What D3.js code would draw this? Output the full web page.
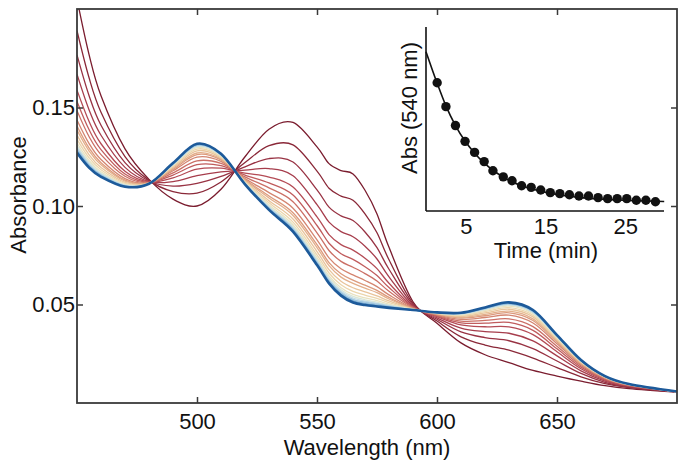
<!DOCTYPE html>
<html>
<head>
<meta charset="utf-8">
<script src="https://cdn.jsdelivr.net/npm/d3@7"></script>
<style>
  html, body { margin: 0; padding: 0; background: #fff; }
  svg { display: block; font-family: "Liberation Sans", Arial, sans-serif; }
</style>
</head>
<body>
<svg id="chart" width="690" height="465"></svg>
<script>
// ---------------- DATA ----------------
const wavelengths = [450,455,460,470,480,490,500,510,520,530,540,550,555,560,565,570,575,580,590,600,610,620,630,640,650,660,670,680,700];

// Absorbance spectra, first (t = 0) to last
const spectra = [
  [.2050,.1770,.1560,.1290,.1135,.1035,.1000,.1085,.1250,.1390,.1424,.1300,.1215,.1180,.1163,.1080,.0960,.0790,.0514,.0405,.0305,.0245,.0205,.0165,.0137,.0111,.0088,.0073,.0055],
  [.1890,.1652,.1476,.1251,.1130,.1073,.1065,.1122,.1221,.1306,.1310,.1177,.1090,.1050,.1029,.0960,.0864,.0727,.0505,.0416,.0336,.0294,.0268,.0228,.0180,.0133,.0098,.0078,.0056],
  [.1767,.1561,.1410,.1220,.1127,.1101,.1115,.1150,.1199,.1241,.1223,.1082,.0994,.0950,.0926,.0868,.0789,.0679,.0499,.0425,.0361,.0332,.0316,.0276,.0213,.0150,.0105,.0081,.0056],
  [.1669,.1489,.1359,.1196,.1124,.1124,.1154,.1173,.1182,.1190,.1154,.1007,.0918,.0870,.0844,.0796,.0731,.0640,.0494,.0432,.0380,.0362,.0354,.0315,.0239,.0163,.0111,.0084,.0056],
  [.1588,.1430,.1316,.1176,.1122,.1143,.1187,.1192,.1167,.1147,.1096,.0945,.0855,.0804,.0776,.0735,.0682,.0608,.0489,.0438,.0396,.0387,.0386,.0347,.0260,.0174,.0116,.0087,.0057],
  [.1531,.1388,.1286,.1162,.1120,.1157,.1210,.1205,.1157,.1117,.1056,.0901,.0811,.0758,.0729,.0692,.0647,.0586,.0486,.0442,.0407,.0405,.0409,.0369,.0275,.0182,.0120,.0088,.0057],
  [.1484,.1353,.1261,.1151,.1119,.1168,.1229,.1216,.1148,.1092,.1022,.0864,.0774,.0719,.0689,.0657,.0619,.0567,.0484,.0445,.0416,.0419,.0427,.0388,.0288,.0189,.0123,.0090,.0057],
  [.1437,.1318,.1236,.1139,.1118,.1179,.1248,.1227,.1140,.1068,.0989,.0828,.0737,.0681,.0650,.0622,.0591,.0549,.0481,.0448,.0425,.0434,.0446,.0406,.0301,.0195,.0126,.0091,.0057],
  [.1406,.1295,.1220,.1131,.1117,.1186,.1261,.1234,.1134,.1051,.0966,.0804,.0713,.0656,.0624,.0598,.0572,.0536,.0479,.0450,.0431,.0443,.0458,.0419,.0309,.0199,.0128,.0092,.0057],
  [.1385,.1280,.1209,.1126,.1116,.1191,.1269,.1238,.1131,.1041,.0952,.0789,.0697,.0639,.0607,.0583,.0560,.0528,.0478,.0452,.0435,.0450,.0466,.0427,.0314,.0202,.0129,.0093,.0057],
  [.1360,.1261,.1195,.1120,.1116,.1197,.1280,.1244,.1126,.1027,.0934,.0769,.0677,.0618,.0585,.0564,.0544,.0518,.0477,.0454,.0440,.0457,.0476,.0437,.0321,.0206,.0131,.0093,.0057],
  [.1338,.1245,.1184,.1115,.1115,.1202,.1289,.1249,.1122,.1016,.0918,.0752,.0660,.0600,.0567,.0548,.0531,.0510,.0476,.0455,.0445,.0464,.0484,.0445,.0327,.0209,.0132,.0094,.0057],
  [.1319,.1231,.1174,.1110,.1114,.1207,.1296,.1254,.1119,.1006,.0905,.0738,.0645,.0585,.0551,.0534,.0520,.0502,.0475,.0457,.0448,.0470,.0492,.0453,.0332,.0211,.0133,.0095,.0057],
  [.1307,.1222,.1167,.1107,.1114,.1209,.1301,.1257,.1117,.0999,.0896,.0728,.0636,.0575,.0541,.0524,.0512,.0497,.0474,.0457,.0451,.0474,.0497,.0458,.0335,.0213,.0134,.0095,.0058],
  [.1297,.1215,.1162,.1105,.1114,.1212,.1305,.1259,.1115,.0994,.0889,.0721,.0628,.0567,.0533,.0517,.0506,.0494,.0474,.0458,.0453,.0477,.0500,.0461,.0338,.0214,.0134,.0095,.0058],
  [.1290,.1209,.1158,.1103,.1114,.1213,.1308,.1261,.1114,.0990,.0884,.0715,.0622,.0561,.0526,.0512,.0502,.0491,.0473,.0459,.0454,.0479,.0503,.0464,.0340,.0215,.0135,.0095,.0058],
  [.1282,.1204,.1154,.1101,.1113,.1215,.1311,.1262,.1112,.0986,.0878,.0709,.0616,.0555,.0520,.0506,.0497,.0488,.0473,.0459,.0456,.0481,.0506,.0467,.0342,.0216,.0135,.0096,.0058],
  [.1275,.1199,.1151,.1099,.1113,.1217,.1314,.1264,.1111,.0983,.0874,.0704,.0611,.0549,.0515,.0501,.0493,.0485,.0472,.0460,.0457,.0483,.0509,.0470,.0344,.0217,.0136,.0096,.0058],
  [.1270,.1195,.1148,.1098,.1113,.1218,.1316,.1265,.1110,.0980,.0870,.0700,.0607,.0545,.0510,.0497,.0490,.0483,.0472,.0460,.0458,.0485,.0511,.0472,.0345,.0218,.0136,.0096,.0058]
];

const xTicks = [500, 550, 600, 650];
const yTicks = [0.05, 0.10, 0.15];

// Inset: absorbance at 540 nm vs time
const insetTimes = [1.4,2.5,3.7,4.9,6.1,7.3,8.4,9.7,10.8,12.0,13.2,14.4,15.6,16.8,18.0,19.2,20.4,21.6,22.8,24.0,25.2,26.4,27.6,28.8];
const insetAbs   = [.1238,.1147,.1075,.1015,.0973,.0938,.0903,.0880,.0865,.0846,.0840,.0830,.0820,.0816,.0812,.0807,.0807,.0801,.0797,.0797,.0797,.0791,.0791,.0785];
const fitTimes = [0,1.4,2.5,3.7,4.9,6.1,7.3,8.4,9.7,10.8,12,14.4,16.8,19.2,21.6,24,26.4,29.9];
const fitAbs   = [.1356,.1236,.1150,.1075,.1016,.0970,.0933,.0905,.0879,.0861,.0846,.0825,.0811,.0802,.0796,.0792,.0789,.0786];
const insetXTicks = [5, 15, 25];

// ---------------- DRAW ----------------
const svg = d3.select("#chart");
const M = {left: 77, right: 677, top: 9, bottom: 403};

const x = d3.scaleLinear().domain([450, 700]).range([M.left, M.right]);
const y = d3.scaleLinear().domain([0, 0.2]).range([M.bottom, M.top]);

const palette = ["#7a1c2e","#8a2838","#983243","#a63d4c","#b44b55","#c05c5d","#cb7066","#d48570",
                 "#dc9a7d","#e3af8b","#e9c49b","#ecd6ad","#e9e2c0","#dae6d6","#c2dbe5","#a2c8df",
                 "#7eafd4","#5590c4","#1d5a9a"];

svg.append("clipPath").attr("id", "plotclip")
  .append("rect").attr("x", M.left).attr("y", M.top)
  .attr("width", M.right - M.left).attr("height", M.bottom - M.top);

const line = d3.line()
  .x((d, i) => x(wavelengths[i]))
  .y(d => y(d))
  .curve(d3.curveCardinal.tension(0));

const gCurves = svg.append("g").attr("clip-path", "url(#plotclip)");
spectra.forEach((s, i) => {
  const last = i === spectra.length - 1;
  gCurves.append("path")
    .attr("d", line(s))
    .attr("fill", "none")
    .attr("stroke", palette[i])
    .attr("stroke-width", last ? 2.6 : 1.3)
    .attr("stroke-linejoin", "round");
});

// Frame
svg.append("rect")
  .attr("x", M.left).attr("y", M.top)
  .attr("width", M.right - M.left).attr("height", M.bottom - M.top)
  .attr("fill", "none").attr("stroke", "#3a3a3a").attr("stroke-width", 1.8);

const fontSize = 22;
function styleAxis(g) {
  g.select(".domain").remove();
  g.selectAll(".tick line").attr("stroke", "#3a3a3a").attr("stroke-width", 1.5);
  g.selectAll(".tick text").attr("fill", "#111").style("font-size", fontSize + "px")
    .style("font-family", '"Liberation Sans", Arial, sans-serif');
}

svg.append("g").attr("transform", `translate(0,${M.bottom})`)
  .call(d3.axisBottom(x).tickValues(xTicks).tickSize(-6).tickPadding(10).tickFormat(d3.format("d")))
  .call(styleAxis);
svg.append("g").attr("transform", `translate(0,${M.top})`)
  .call(d3.axisTop(x).tickValues(xTicks).tickSize(-6).tickFormat(""))
  .call(styleAxis);
svg.append("g").attr("transform", `translate(${M.left},0)`)
  .call(d3.axisLeft(y).tickValues(yTicks).tickSize(-6).tickPadding(2).tickFormat(d3.format(".2f")))
  .call(styleAxis);
svg.append("g").attr("transform", `translate(${M.right},0)`)
  .call(d3.axisRight(y).tickValues(yTicks).tickSize(-6).tickFormat(""))
  .call(styleAxis);

// Axis titles
svg.append("text")
  .attr("x", 367).attr("y", 455)
  .attr("text-anchor", "middle")
  .style("font-size", "22px").attr("fill", "#111")
  .text("Wavelength (nm)");
svg.append("text")
  .attr("transform", "translate(26,195) rotate(-90)")
  .attr("text-anchor", "middle")
  .style("font-size", "22px").attr("fill", "#111")
  .text("Absorbance");

// ---------------- INSET ----------------
const I = {left: 426, right: 664, top: 27, bottom: 211};
const xi = d3.scaleLinear().domain([0, 30]).range([426, 665]);
const yi = d3.scaleLinear().domain([0.075, 0.145]).range([I.bottom, I.top]);

svg.append("rect").attr("x", I.left - 2).attr("y", I.top - 2)
  .attr("width", I.right - I.left + 6).attr("height", I.bottom - I.top + 4)
  .attr("fill", "#fff");

const fitLine = d3.line()
  .x((d, i) => xi(fitTimes[i]))
  .y(d => yi(d))
  .curve(d3.curveMonotoneX);
svg.append("path").attr("d", fitLine(fitAbs))
  .attr("fill", "none").attr("stroke", "#111").attr("stroke-width", 1.6);

svg.append("g").selectAll("circle")
  .data(insetAbs)
  .join("circle")
  .attr("cx", (d, i) => xi(insetTimes[i]))
  .attr("cy", d => yi(d))
  .attr("r", 4.7)
  .attr("fill", "#111");

svg.append("line").attr("x1", I.left).attr("x2", I.left).attr("y1", I.top).attr("y2", I.bottom)
  .attr("stroke", "#111").attr("stroke-width", 1.6);
svg.append("line").attr("x1", I.left).attr("x2", I.right).attr("y1", I.bottom).attr("y2", I.bottom)
  .attr("stroke", "#111").attr("stroke-width", 1.6);

svg.append("g").attr("transform", `translate(0,${I.bottom})`)
  .call(d3.axisBottom(xi).tickValues(insetXTicks).tickSize(0).tickPadding(7).tickFormat(d3.format("d")))
  .call(styleAxis);

svg.append("text")
  .attr("x", 546).attr("y", 258)
  .attr("text-anchor", "middle")
  .style("font-size", "22px").attr("fill", "#111")
  .text("Time (min)");
svg.append("text")
  .attr("transform", "translate(417,108) rotate(-90)")
  .attr("text-anchor", "middle")
  .style("font-size", "22px").attr("fill", "#111")
  .text("Abs (540 nm)");
</script>
</body>
</html>
